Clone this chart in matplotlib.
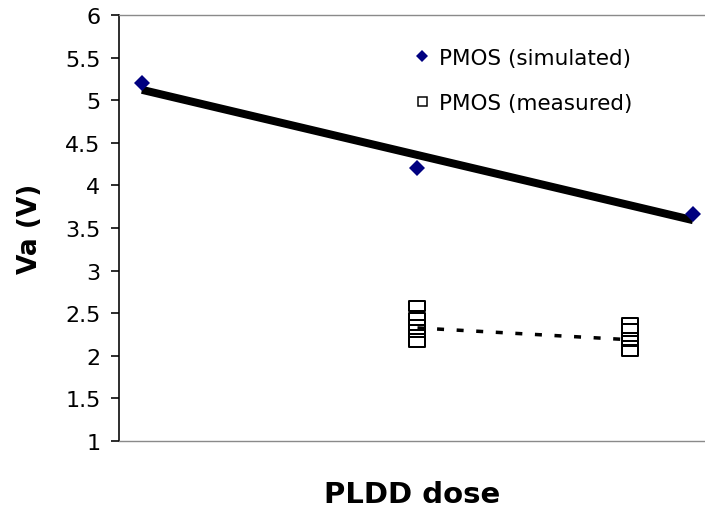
import numpy as np
import matplotlib
matplotlib.use("Agg")
import matplotlib.pyplot as plt
from matplotlib.lines import Line2D
from matplotlib.path import Path

# ---------------- data ----------------
sim_x = [1, 2, 3]
sim_va = [5.2, 4.2, 3.67]

meas_x = [2.0, 2.77]
meas_va_a = [2.59, 2.44, 2.36, 2.30, 2.24, 2.20, 2.16]
meas_va_b = [2.38, 2.31, 2.21, 2.17, 2.12, 2.07, 2.06]

y_ticks = [1, 1.5, 2, 2.5, 3, 3.5, 4, 4.5, 5, 5.5, 6]
y_tick_labels = ["1", "1.5", "2", "2.5", "3", "3.5", "4", "4.5", "5", "5.5", "6"]

sim_label = "PMOS (simulated)"
meas_label = "PMOS (measured)"
x_label = "PLDD dose"
y_label = "Va (V)"

# ---------------- figure ----------------
W, H, DPI = 705, 510, 100
fig = plt.figure(figsize=(W / DPI, H / DPI), dpi=DPI)
plt.rcParams["font.family"] = ["DejaVu Sans"]

ax_l, ax_r, ax_t, ax_b = 119, 705, 16, 442
ax = fig.add_axes([ax_l / W, 1 - ax_b / H, (ax_r - ax_l) / W, (ax_b - ax_t) / H])

px_per_unit = 276.0
x_left = 1 - (142 - ax_l) / px_per_unit
x_right = 3 + (ax_r - 693) / px_per_unit
ax.set_xlim(x_left, x_right)
ax.set_ylim(1, 6)

def px2pt(p):
    return p * 72.0 / DPI

navy = "#000080"

# simulated trend line (linear fit)
coef = np.polyfit(sim_x, sim_va, 1)
xs = np.array([min(sim_x), max(sim_x)])
ax.plot(xs, np.polyval(coef, xs), color="black", lw=px2pt(8), solid_capstyle="butt", zorder=2)
ax.plot(sim_x, sim_va, linestyle="none", marker="D", markersize=px2pt(12),
        color=navy, markeredgewidth=0, zorder=3, clip_on=False)

# measured points
rect = Path([(-0.8, -0.5), (0.8, -0.5), (0.8, 0.5), (-0.8, 0.5), (-0.8, -0.5)],
            [Path.MOVETO, Path.LINETO, Path.LINETO, Path.LINETO, Path.CLOSEPOLY])
for xv, vals in zip(meas_x, [meas_va_a, meas_va_b]):
    for v in vals:
        ax.plot([xv], [v], linestyle="none", marker=rect, markersize=px2pt(16),
                markerfacecolor="white", markeredgecolor="black",
                markeredgewidth=px2pt(2), zorder=3)

means = [np.mean(meas_va_a), np.mean(meas_va_b)]
ax.plot(meas_x, means, color="black", lw=px2pt(3.5), linestyle=(0, (2.0, 3.6)),
        dash_capstyle="butt", zorder=4)

# axes styling
ax.spines["right"].set_visible(False)
ax.spines["left"].set_color("black")
ax.spines["left"].set_linewidth(px2pt(1.6))
for s in ["top", "bottom"]:
    ax.spines[s].set_color("#8a8a8a")
    ax.spines[s].set_linewidth(px2pt(1.4))

ax.set_xticks([])
ax.set_yticks(y_ticks)
ax.set_yticklabels(y_tick_labels)
ax.tick_params(axis="y", direction="out", length=px2pt(8), width=px2pt(1.6),
               pad=px2pt(10.5), labelsize=16, colors="black")

ax.set_xlabel(x_label, fontsize=21, fontweight="bold")
ax.xaxis.set_label_coords(0.5, (ax_b - 481) / (ax_b - ax_t))
ax.set_ylabel(y_label, fontsize=19, fontweight="bold")
ax.yaxis.set_label_coords((43 - ax_l) / (ax_r - ax_l), 0.5)

# legend
handles = [
    Line2D([], [], linestyle="none", marker="D", markersize=px2pt(8), color=navy,
           markeredgewidth=0),
    Line2D([], [], linestyle="none", marker="s", markersize=px2pt(9),
           markerfacecolor="white", markeredgecolor="black", markeredgewidth=px2pt(1.5)),
]
fs = 15.5
leg = ax.legend(handles, [sim_label, meas_label], loc="upper left",
                bbox_to_anchor=(414.0 / W, 1 - 49 / H), bbox_transform=fig.transFigure,
                frameon=False, fontsize=fs, handlelength=0.78, handletextpad=0.36,
                labelspacing=1.14, borderpad=0, borderaxespad=0)

fig.savefig("out.png", dpi=DPI)
